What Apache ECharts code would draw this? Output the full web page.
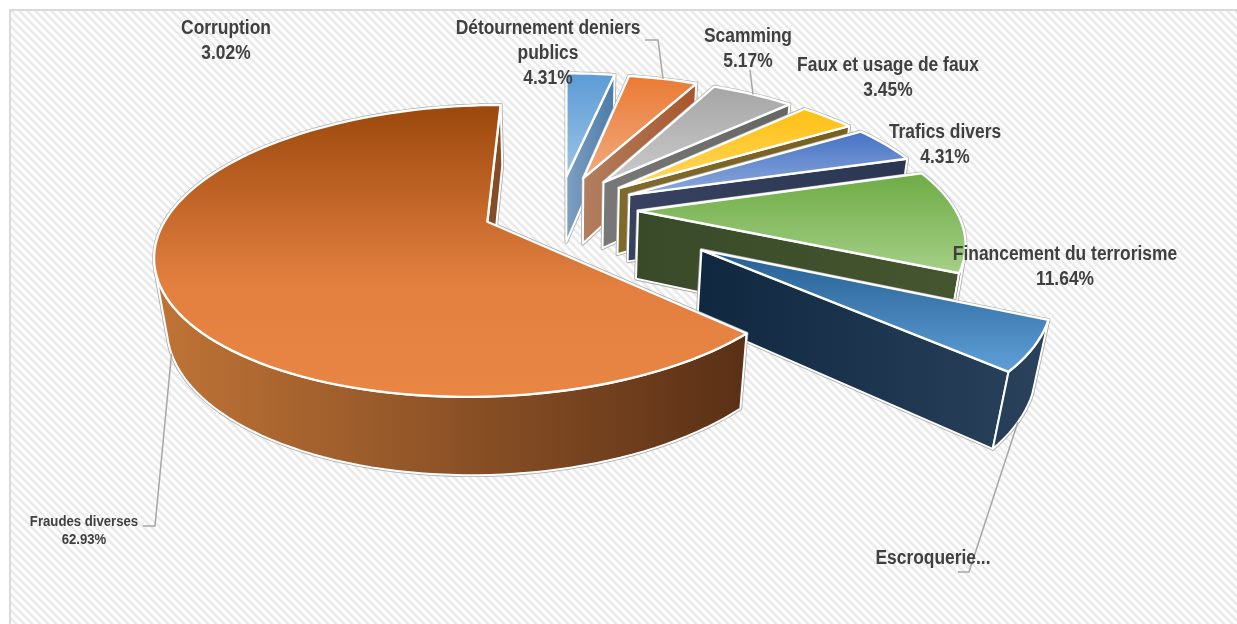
<!DOCTYPE html>
<html lang="fr">
<head>
<meta charset="utf-8">
<title>Répartition des infractions</title>
<style>html,body{margin:0;padding:0;background:#fff}#chart{width:1237px;height:624px}</style>
<script src="https://cdn.jsdelivr.net/npm/echarts@6/dist/echarts.min.js"></script>
</head>
<body>
<div id="chart"></div>
<script>
// Share of each offence, clockwise from twelve o'clock
const categories = ['Corruption', 'Détournement deniers\npublics', 'Scamming', 'Faux et usage de faux',
  'Trafics divers', 'Financement du terrorisme', 'Escroquerie', 'Fraudes diverses'];
const shares = [3.02, 4.31, 5.17, 3.45, 4.31, 11.64, 5.17, 62.93];

// How far each slice is pulled out of the pie, in pie radii
const explode = [0.25, 0.25, 0.25, 0.25, 0.25, 0.25, 0.515, 0.24];

// Slice colours: top face (far to near), then wall (left to right)
const topColors = [
  ['#5b9bd5', '#9dc3e6'], ['#ea7a33', '#f1aa80'], ['#a5a5a5', '#cbcbcb'], ['#ffc012', '#ffd65f'],
  ['#4472c4', '#8faadc'], ['#6dab44', '#a6d088'], ['#255e91', '#5f9fd8'], ['#9b480c', '#e98644']
];
const wallColors = [
  ['#7fa0c2', '#4a7ba8'], ['#b27f60', '#a9562a'], ['#787878', '#666666'], ['#7f6a2c', '#7a5f1e'],
  ['#36425f', '#2b3652'], ['#384a28', '#45562f'], ['#0f2840', '#2a425c'], ['#c07436', '#5a3016']
];

// Label layout: centre of the text block, font size, leader elbows and which rim it hooks onto
const labelLayout = [
  {x: 226, y: 40.5, size: 20},
  {x: 548, y: 53, size: 20, elbows: [[645, 40], [658, 40]], rim: 'top'},
  {x: 748, y: 48.5, size: 20, elbows: [[750, 70]], rim: 'top'},
  {x: 888, y: 78, size: 20},
  {x: 945, y: 145, size: 20},
  {x: 1065, y: 267, size: 20},
  {x: 933, y: 558, size: 20, text: 'Escroquerie...', elbows: [[958, 572], [969, 572]], rim: 'bottom'},
  {x: 84, y: 531, size: 14, lineHeight: 18, squeeze: 0.94, elbows: [[143, 526], [155, 526]], rim: 'bottom'}
];

// Camera used to project the pie's plane onto the page
const camera = {vx: 567, x0: 0.026, fx: 317, cy: 208.7, fy: 135, k: 0.196, depthQ: 0.03, depthP: 69.5};

function project(X, Y, lower) {
  const w = 1 + camera.k * Y + (lower ? camera.depthQ : 0);
  return [
    camera.vx + camera.fx * (X - camera.x0) / w,
    camera.cy + (-camera.fy * Y + (lower ? camera.depthP : 0)) / w
  ];
}

const total = shares.reduce((a, b) => a + b, 0);
const rad = d => d * Math.PI / 180;
const spans = [];
shares.reduce((acc, v) => {
  const next = acc + v / total * 360;
  spans.push([acc, next]);
  return next;
}, 0);

function signedArea(poly) {
  let a = 0;
  poly.forEach((p, i) => {
    const q = poly[(i + 1) % poly.length];
    a += p[0] * q[1] - q[0] * p[1];
  });
  return a / 2;
}

function verticalFill(stops) {
  return {type: 'linear', x: 0, y: 0, x2: 0, y2: 1, colorStops: stops};
}

function renderSlice(params, api) {
  const i = params.dataIndex;
  const share = api.value(0);
  const a1 = spans[i][0];
  const a2 = a1 + share / total * 360;
  const mid = rad((a1 + a2) / 2);
  const ox = Math.sin(mid) * explode[i];
  const oy = Math.cos(mid) * explode[i];
  const rimPoint = (deg, lower) => project(ox + Math.sin(rad(deg)), oy + Math.cos(rad(deg)), lower);
  const apexTop = project(ox, oy, false);
  const apexLow = project(ox, oy, true);

  const steps = Math.max(6, Math.ceil((a2 - a1) / 2));
  const arcDegs = [];
  for (let s = 0; s <= steps; s++) arcDegs.push(a1 + (a2 - a1) * s / steps);
  const arcTop = arcDegs.map(d => rimPoint(d, false));
  const arcLow = arcDegs.map(d => rimPoint(d, true));

  const faces = [];
  // Radial cut walls, kept only when they turn toward the viewer
  const startWall = [apexTop, arcTop[0], arcLow[0], apexLow];
  if (signedArea(startWall) < 0) faces.push(startWall);
  const endWall = [apexTop, arcTop[steps], arcLow[steps], apexLow];
  if (signedArea(endWall) > 0) faces.push(endWall);

  // Curved outer wall: the run of rim segments that faces the viewer
  const front = [];
  for (let s = 0; s < steps; s++) {
    const quad = [arcTop[s], arcTop[s + 1], arcLow[s + 1], arcLow[s]];
    if (signedArea(quad) < 0) front.push(s);
  }
  if (front.length) {
    const first = front[0];
    const last = front[front.length - 1] + 1;
    faces.push(arcTop.slice(first, last + 1).concat(arcLow.slice(first, last + 1).reverse()));
  }

  // All walls of a slice share one shading ramp across its full width
  const wallXs = faces.flat().map(p => p[0]);
  const wallFill = {
    type: 'linear', global: true,
    x: Math.min(...wallXs), y: 0, x2: Math.max(...wallXs), y2: 0,
    colorStops: [{offset: 0, color: wallColors[i][0]}, {offset: 1, color: wallColors[i][1]}]
  };

  const topFace = [apexTop].concat(arcTop);
  const children = [];
  faces.concat([topFace]).forEach(points => {
    children.push({
      type: 'polygon', shape: {points},
      style: {fill: 'none', stroke: '#aaaaaa', lineWidth: 3.6, lineJoin: 'round'}
    });
  });
  faces.forEach(points => {
    children.push({
      type: 'polygon', shape: {points},
      style: {fill: wallFill, stroke: '#ffffff', lineWidth: 2, lineJoin: 'round'}
    });
  });
  const topFill = i === 7
    ? verticalFill([{offset: 0, color: topColors[i][0]}, {offset: 0.62, color: '#e38040'}, {offset: 1, color: topColors[i][1]}])
    : verticalFill([{offset: 0, color: topColors[i][0]}, {offset: 1, color: topColors[i][1]}]);
  children.push({
    type: 'polygon', shape: {points: topFace},
    style: {fill: topFill, stroke: '#ffffff', lineWidth: 2.4, lineJoin: 'round'}
  });

  // Label and optional leader line
  const layout = labelLayout[i];
  const text = layout.text || `${categories[i]}\n${share.toFixed(2)}%`;
  if (layout.elbows) {
    const anchor = rimPoint((a1 + a2) / 2, layout.rim === 'bottom');
    children.push({
      type: 'polyline', z2: 90,
      shape: {points: layout.elbows.concat([anchor])},
      style: {fill: 'none', stroke: '#a6a6a6', lineWidth: 1.5}
    });
  }
  children.push({
    type: 'text', z2: 100,
    x: layout.x, y: layout.y,
    scaleX: layout.squeeze || 0.87,
    style: {
      text, x: 0, y: 0,
      fill: '#404040',
      font: `bold ${layout.size}px "Liberation Sans", sans-serif`,
      lineHeight: layout.lineHeight || 25,
      align: 'center', verticalAlign: 'middle'
    }
  });
  return {type: 'group', children};
}

// Diagonal hatch tile for the chart area
function hatchTile() {
  const size = 8;
  const tile = document.createElement('canvas');
  tile.width = tile.height = size;
  const ctx = tile.getContext('2d');
  const ramp = ['#e8e8e8', '#e8e8e8', '#f2f2f2', '#fbfbfb', '#ffffff', '#ffffff', '#fbfbfb', '#f2f2f2'];
  for (let y = 0; y < size; y++) {
    for (let x = 0; x < size; x++) {
      ctx.fillStyle = ramp[(x - y + size * 2) % size];
      ctx.fillRect(x, y, 1, 1);
    }
  }
  return tile;
}

const chart = echarts.init(document.getElementById('chart'), null, {renderer: 'canvas'});
chart.setOption({
  animation: false,
  backgroundColor: '#ffffff',
  graphic: [{
    type: 'rect', silent: true,
    shape: {x: 10, y: 10, width: 1240, height: 630},
    style: {fill: {image: hatchTile(), repeat: 'repeat'}, stroke: '#d9d9d9', lineWidth: 2}
  }],
  series: [{
    type: 'custom',
    coordinateSystem: 'none',
    silent: true,
    renderItem: renderSlice,
    data: shares.map((v, i) => ({name: categories[i], value: [v]}))
  }]
});
</script>
</body>
</html>
